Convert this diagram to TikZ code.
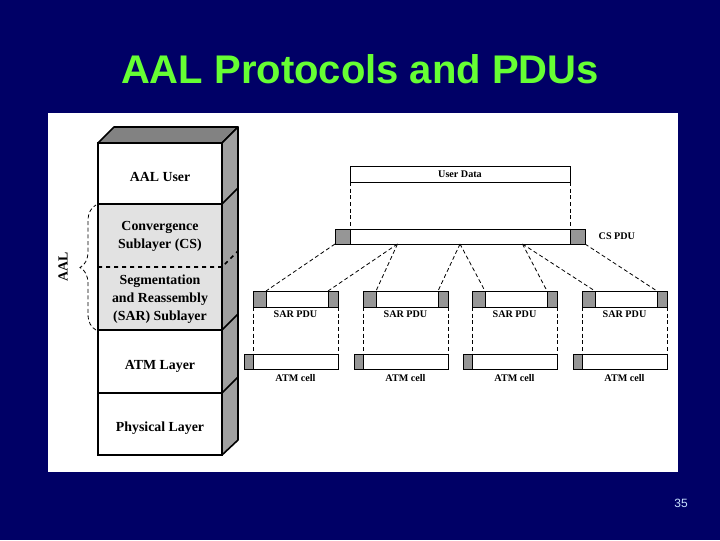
\documentclass[tikz,border=0pt]{standalone}
\usepackage{fontspec}
\newfontfamily\tnr{Liberation Serif}
\newfontfamily\arial{Liberation Sans}
\usepackage{tikz}
\usetikzlibrary{calc,decorations.pathreplacing}
\definecolor{slideblue}{RGB}{0,0,102}
\definecolor{titlegreen}{RGB}{102,255,51}
\definecolor{pagecol}{RGB}{200,225,255}
\definecolor{hdrgray}{RGB}{150,150,150}
\definecolor{sidegray}{RGB}{160,160,160}
\definecolor{topgray}{RGB}{130,130,130}
\definecolor{aalgray}{RGB}{226,226,226}
\tikzset{
  layertext/.style={font=\tnr\bfseries\fontsize{10.4}{13.5}\selectfont, align=center},
  lbl/.style={font=\tnr\bfseries\fontsize{7.6}{9}\selectfont},
  box/.style={draw, line width=0.75pt},
  cut/.style={densely dashed, line width=0.6pt},
}

\begin{document}
\begin{tikzpicture}[x=0.75pt,y=-0.75pt]
\fill[slideblue] (0,0) rectangle (720,540);
\fill[white] (48,113) rectangle (678,472);
\node[font=\arial\bfseries\fontsize{30}{36}\selectfont, text=titlegreen] (title) at (360,69) {AAL Protocols and PDUs};
\node[font=\arial\fontsize{9}{10}\selectfont, text=pagecol] (pgnum) at (681,503) {35};

% protocol stack
\filldraw[fill=topgray, line width=1.2pt, line join=round] (98,143) -- (114,127) -- (238,127) -- (222,143) -- cycle;
\filldraw[fill=sidegray, line width=1.2pt, line join=round] (222,143) -- (238,127) -- (238,440) -- (222,455) -- cycle;
\fill[white] (98,143) rectangle (222,455);
\fill[aalgray] (98,204) rectangle (222,330);
\draw[line width=1.2pt] (98,143) rectangle (222,455);
\foreach \y in {204,330,393}
  \draw[line width=1.2pt] (98,\y) -- (222,\y) -- ++(16,-16);
\draw[line width=1.2pt, dashed] (98,267) -- (222,267) -- ++(16,-16);
\node[layertext] (user) at (160,177) {AAL User};
\node[layertext] (cs) at (160,236) {Convergence\\Sublayer (CS)};
\node[layertext] (sar) at (160,299) {Segmentation\\and Reassembly\\(SAR) Sublayer};
\node[layertext] (atm) at (160,366) {ATM Layer};
\node[layertext] (phy) at (160,428) {Physical Layer};
\draw[line width=0.6pt, densely dashed, decorate, decoration={brace, amplitude=12pt}] (96,330) -- (96,205);
\node[layertext, rotate=90] (aal) at (63,267) {AAL};

% user data and CS PDU
\draw[box] (350,166) rectangle (570,182);
\node[lbl] (udlbl) at (460,174) {User Data};
\draw[box, fill=hdrgray] (335,229) rectangle (350,244);
\draw[box] (350,229) rectangle (570,244);
\draw[box, fill=hdrgray] (570,229) rectangle (585,244);
\node[lbl, anchor=west] (cslbl) at (594,236) {CS PDU};
\coordinate (ud1) at (350,182);
\coordinate (ud2) at (570,182);
\draw[cut] (ud1) -- (350,229) (ud2) -- (570,229);
\foreach \j in {0,...,4}
  \coordinate (cs\j) at (335+62.5*\j,244);

% SAR PDUs and ATM cells
\foreach \i/\x in {1/253,2/363,3/472,4/582}{
  \draw[box, fill=hdrgray] (\x,291) rectangle ++(13,16);
  \draw[box] (\x+13,291) rectangle (\x+75,307);
  \draw[box, fill=hdrgray] (\x+75,291) rectangle ++(10,16);
  \node[lbl] (sarlbl\i) at (\x+42.5,314.5) {SAR PDU};
  \coordinate (sarh\i) at (\x+13,291);
  \coordinate (sart\i) at (\x+75,291);
  \draw[box, fill=hdrgray] (\x-9,354) rectangle (\x,369);
  \draw[box] (\x,354) rectangle (\x+85,369);
  \node[lbl] (celllbl\i) at (\x+42.5,378.5) {ATM cell};
  \draw[cut] (\x,307) -- (\x,354) (\x+85,307) -- (\x+85,354);
}
\draw[cut] (cs0) -- (sarh1) (cs1) -- (sart1);
\draw[cut] (cs1) -- (sarh2) (cs2) -- (sart2);
\draw[cut] (cs2) -- (sarh3) (cs3) -- (sart3);
\draw[cut] (cs3) -- (sarh4) (cs4) -- (sart4);
\end{tikzpicture}
\end{document}
